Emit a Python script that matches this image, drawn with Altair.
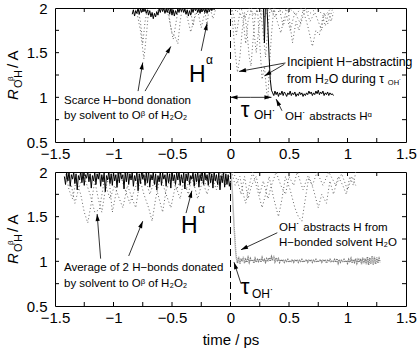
import math
import altair as alt
import pandas as pd

FONT = "Liberation Sans, DejaVu Sans"
X_DOMAIN = [-1.5, 1.5]
Y_DOMAIN = [0.5, 2.0]
X_LABELS = [-1.5, -1.0, -0.5, 0.0, 0.5, 1.0, 1.5]
Y_LABELS = [0.5, 1.0, 1.5, 2.0]
X_TICKS = [-1.25, -1.0, -0.75, -0.5, -0.25, 0.0, 0.25, 0.5, 0.75, 1.0, 1.25]
Y_TICKS = [0.75, 1.0, 1.25, 1.5, 1.75]
W, H = 351, 134
TICK = 4
GRAY = "#666666"

# ---------------- top panel data ----------------
TOP_HA_T0, TOP_HA_DT = -0.84, 0.01
TOP_HA_NOISE_1 = [1.93,1.98,1.91,1.97,1.94,2.00,1.93,1.99,1.95,2.01,1.96,1.99,1.94,1.98,1.92,1.97,1.90,1.95,1.88,1.94,
                  1.90,1.96,1.92,1.99,1.95,2.01,1.96,2.00,1.94,1.99,1.95,2.01,1.93,1.99,1.92,1.98,1.91,1.97,1.93,1.99,
                  1.95,2.01,1.96,2.00,1.95,1.99,1.93,1.98,1.91,1.97,1.92,1.99,1.95,2.01,1.97,2.00,1.95,1.99,1.94,2.01,
                  1.96,2.00,1.95,1.99,1.94,2.00,1.96,2.01,1.97,2.00,1.98,2.02,2.00,2.03,2.05,2.08,2.12]
TOP_HA_DROP_X = [0.25, 0.28, 0.29, 0.30, 0.31, 0.32, 0.33, 0.34, 0.35]
TOP_HA_DROP_Y = [2.20, 2.10, 1.61, 2.10, 2.05, 1.78, 1.45, 1.20, 1.08]
TOP_HA_T1, TOP_HA_DT1 = 0.36, 0.01
TOP_HA_NOISE_2 = [1.05,1.02,1.07,1.03,1.06,1.01,1.05,1.03,1.07,1.02,1.06,1.04,1.01,1.05,1.03,1.07,1.02,1.05,1.03,1.06,
                  1.01,1.04,1.02,1.06,1.03,1.05,1.01,1.04,1.02,1.05,1.03,1.07,1.04,1.06,1.02,1.05,1.03,1.07,1.04,1.08,
                  1.03,1.06,1.04,1.07,1.02,1.05,1.03,1.06,1.02,1.05,1.03,1.04,1.02]

TOP_D1_X = [-0.84,-0.80,-0.77,-0.74,-0.715,-0.70,-0.66,-0.62,-0.58,-0.53,-0.50,-0.475,-0.45,-0.43,-0.41,-0.37,-0.34,-0.31,-0.28,-0.25,-0.22,-0.18,-0.15,-0.12,-0.08]
TOP_D1_Y = [2.05,1.95,1.75,1.43,1.75,1.98,2.05,1.97,2.05,1.92,1.72,1.68,1.60,1.85,2.02,1.90,1.73,1.88,1.97,1.78,1.95,2.03,1.88,2.02,2.05]
TOP_D2_X = [-0.80,-0.77,-0.75,-0.73,-0.70,-0.54,-0.51,-0.49,-0.47,-0.44,-0.35,-0.32,-0.30,-0.22,-0.20,-0.18]
TOP_D2_Y = [2.05,1.85,1.60,1.85,2.05,2.05,1.78,1.65,1.80,2.05,2.05,1.80,1.95,1.98,1.80,2.05]
TOP_D3_X = [0.0,0.02,0.04,0.06,0.08,0.10,0.12,0.14,0.16,0.175,0.19,0.21,0.23,0.25,0.27,0.29,0.31,0.32,0.33,0.35,0.37,0.40,0.43,0.46,0.49,0.53,0.56,0.585,0.62,0.66,0.70,0.73,0.76,0.79,0.81,0.84,0.86,0.88]
TOP_D3_Y = [2.05,1.80,1.50,1.28,1.45,1.75,1.95,1.75,1.45,1.35,1.60,1.90,2.00,1.60,1.20,1.35,1.05,0.98,1.30,1.70,2.00,1.85,1.72,1.90,2.00,1.61,1.85,1.75,1.98,1.80,1.57,1.75,1.70,1.90,1.80,1.95,1.85,1.95]
TOP_D4_X = [0.0,0.03,0.05,0.08,0.11,0.13,0.15,0.18,0.20,0.22,0.24,0.26,0.28,0.30,0.32,0.34,0.38,0.42,0.45,0.48,0.51,0.55,0.60,0.64,0.68,0.72,0.75,0.78,0.80,0.83,0.85,0.87]
TOP_D4_Y = [2.05,1.90,1.70,1.95,1.85,1.60,1.85,2.00,1.75,1.50,1.75,1.95,1.70,1.45,1.80,2.00,1.90,1.98,1.80,1.92,1.75,1.95,1.82,2.00,1.85,1.95,1.85,1.75,1.95,1.82,1.90,1.98]
TOP_D5_X = [0.02,0.05,0.09,0.12,0.16,0.20,0.25,0.29,0.33,0.36,0.40,0.44,0.50,0.56,0.62,0.68,0.74,0.80,0.86]
TOP_D5_Y = [2.05,1.95,2.00,1.88,2.00,1.92,2.02,1.90,2.00,1.95,2.02,1.95,2.00,1.93,2.02,1.94,2.00,1.90,2.00]

# ---------------- bottom panel data ----------------
BOT_HA_T0, BOT_HA_DT = -1.42, 0.01
BOT_HA_NOISE = [1.95,1.86,1.99,1.90,2.01,1.84,1.97,1.92,2.00,1.87,
                1.98,1.80,1.96,1.91,2.01,1.88,1.99,1.85,1.97,1.93,
                2.01,1.89,1.98,1.82,1.96,1.90,2.00,1.86,1.98,1.92,
                2.01,1.84,1.97,1.89,1.99,1.78,1.96,1.91,2.01,1.87,
                1.98,1.85,2.00,1.90,1.97,1.83,1.99,1.88,2.01,1.92,
                1.97,1.81,1.99,1.89,2.01,1.86,1.98,1.91,2.00,1.84,
                1.96,1.90,2.01,1.79,1.98,1.87,2.00,1.92,1.97,1.85,
                1.99,1.88,2.01,1.83,1.97,1.91,2.00,1.86,1.98,1.80,
                1.96,1.89,2.01,1.85,1.99,1.92,1.97,1.84,2.00,1.88,
                1.98,1.82,2.01,1.90,1.97,1.86,1.99,1.91,2.01,1.85,
                1.97,1.88,2.00,1.81,1.98,1.90,2.01,1.86,1.96,1.92,
                2.00,1.84,1.98,1.89,2.01,1.83,1.97,1.90,1.99,1.86,
                2.01,1.91,1.97,1.85,2.00,1.88,1.98,1.82,2.01,1.90,
                1.97,1.86,1.99,1.80,1.96,1.88,2.00,1.83,1.98,1.86,
                1.97,1.84,1.90]
BOT_DROP_X = [0.0, 0.015, 0.03, 0.045]
BOT_DROP_Y = [2.05, 1.80, 1.40, 1.10]
BOT_BAND_T0, BOT_BAND_DT = 0.05, 0.01
BOT_BAND = [1.04,0.98,1.05,0.97,1.03,1.00,1.05,0.98,1.02,0.99,
            1.04,0.99,1.03,1.00,1.02,0.98,1.03,0.99,1.02,1.00,
            1.03,0.99,1.04,1.00,1.02,0.99,1.03,1.01,1.04,1.00,
            1.05,1.01,1.06,1.00,1.04,1.01,1.03,0.99,1.02,1.00,
            1.02,0.99,1.01,1.00,1.02,0.99,1.01,1.00,1.02,0.99,
            1.01,1.00,1.02,0.99,1.01,1.00,1.02,0.99,1.01,1.00,
            1.02,0.99,1.01,1.00,1.02,0.99,1.01,1.00,1.02,0.99,
            1.01,1.00,1.02,0.99,1.01,1.00,1.02,0.98,1.01,1.00,
            1.02,0.99,1.01,1.00,1.02,0.99,1.03,0.98,1.02,0.99,
            1.01,1.00,1.02,0.99,1.01,0.98,1.02,0.99,1.03,0.98,
            1.02,0.99,1.03,0.98,1.02,0.99,1.03,0.97,1.04,0.98,
            1.03,0.97,1.05,0.96,1.04,0.97,1.06,0.96,1.05,0.97,
            1.04,0.98,1.03,0.99]

BOT_D6_X = [-1.42,-1.38,-1.35,-1.32,-1.28,-1.25,-1.22,-1.19,-1.16,-1.13,-1.10,-1.07,-1.04,-1.01,-0.98,-0.95,-0.90,-0.86,-0.82,-0.78,-0.74,-0.70,-0.67,-0.64,-0.60,-0.55,-0.51,-0.47,-0.43,-0.40,-0.36,-0.33,-0.28,-0.24,-0.20,-0.16,-0.12,-0.08,-0.04,0.0]
BOT_D6_Y = [2.05,1.80,1.70,1.90,1.75,1.55,1.43,1.65,1.90,1.70,1.55,1.80,1.95,1.55,1.75,2.00,1.80,1.65,1.80,1.95,1.75,1.60,1.45,1.70,1.95,1.75,1.60,1.85,1.70,1.90,1.75,1.95,1.70,1.90,1.75,1.95,1.80,2.00,1.85,2.00]
BOT_D7_X = [-1.40,-1.36,-1.33,-1.30,-1.26,-1.20,-1.16,-1.12,-1.08,-1.03,-0.99,-0.95,-0.92,-0.88,-0.84,-0.81,-0.78,-0.73,-0.69,-0.65,-0.61,-0.58,-0.55,-0.50,-0.46,-0.42,-0.38,-0.34,-0.30,-0.26,-0.22,-0.18,-0.10,-0.05]
BOT_D7_Y = [1.95,1.85,1.65,1.80,1.98,1.75,1.55,1.58,1.90,1.70,1.85,1.70,1.60,1.85,1.70,1.60,1.85,1.95,1.75,1.90,1.70,1.55,1.80,1.95,1.80,1.95,1.80,1.95,1.85,1.98,1.85,2.00,1.85,2.00]
BOT_D8_X = [0.0,0.04,0.08,0.11,0.13,0.16,0.19,0.23,0.27,0.30,0.33,0.37,0.41,0.44,0.47,0.51,0.55,0.58,0.61,0.64,0.67,0.71,0.75,0.78,0.82,0.85,0.88,0.92,0.96,0.99,1.02,1.05,1.07]
BOT_D8_Y = [2.05,1.85,1.95,1.75,1.65,1.85,2.00,1.80,1.60,1.75,1.95,1.70,1.50,1.70,1.95,1.80,1.60,1.50,1.45,1.70,1.95,1.80,1.60,1.75,1.65,1.90,1.75,1.95,1.85,1.75,1.95,1.85,2.00]
BOT_D9_X = [0.02,0.06,0.09,0.12,0.15,0.18,0.22,0.25,0.28,0.32,0.35,0.39,0.43,0.47,0.50,0.54,0.57,0.62,0.66,0.70,0.74,0.79,0.84,0.90,0.95,1.00,1.04,1.07]
BOT_D9_Y = [2.00,1.90,1.75,1.95,1.70,1.85,1.95,1.75,1.90,1.70,1.85,2.00,1.85,1.75,1.95,1.85,2.00,1.80,1.95,1.85,2.00,1.85,2.00,1.85,1.98,1.80,1.95,1.85]

# ---------------- annotations ----------------
TOP_ARROWS = [(-0.79, 1.07, -0.75, 1.39), (-0.73, 1.07, -0.51, 1.57), (-0.25, 1.52, -0.20, 1.83),
              (0.47, 1.385, 0.073, 1.29), (0.46, 1.37, 0.29, 1.24), (0.44, 0.85, 0.39, 0.98),
              (0.17, 1.0, 0.0, 1.0), (0.17, 1.0, 0.35, 1.0)]
BOT_ARROWS = [(-1.11, 1.03, -1.14, 1.53), (-0.87, 1.06, -0.75, 1.45), (-0.38, 1.54, -0.33, 1.79),
              (0.40, 1.32, 0.09, 1.13), (0.09, 0.75, 0.03, 0.99)]
TOP_NOTES = [("Scarce H\u2212bond donation", -1.423, 0.955, 11.5),
             ("by solvent to O\u1d5d of H\u2082O\u2082", -1.423, 0.79, 11.5),
             ("Incipient H\u2212abstracting", 0.483, 1.40, 12.3),
             ("from H\u2082O during \u03c4", 0.483, 1.20, 12.3),
             ("OH\u02d9 abstracts H\u1d45", 0.466, 0.78, 11.5)]
TOP_SUBS = [("OH\u02d9", 1.345, 1.165, 7.5)]
TOP_BIG = [("H", -0.355, 1.167, 23), ("\u03b1", -0.21, 1.37, 12), ("\u03c4", 0.087, 0.78, 22), ("OH\u02d9", 0.20, 0.756, 12)]
BOT_NOTES = [("Average of 2 H\u2212bonds donated", -1.423, 0.925, 11.5),
             ("by solvent to O\u1d5d of H\u2082O\u2082", -1.423, 0.746, 11.5),
             ("OH\u02d9 abstracts H from", 0.415, 1.37, 11.5),
             ("H\u2212bonded solvent H\u2082O", 0.415, 1.20, 11.5)]
BOT_BIG = [("H", -0.423, 1.317, 23), ("\u03b1", -0.277, 1.54, 12), ("\u03c4", 0.087, 0.634, 22), ("OH\u02d9", 0.184, 0.59, 12)]

YTITLE = [("R", -37, 92, 15, "italic"), ("O", -33, 80, 11, "normal"), ("\u03b2", -42, 73, 8, "normal"),
          ("H", -33, 70, 11, "normal"), ("/ A", -37, 60, 15, "normal")]

ARROW_PATH = "M0,0L0.6,2L-0.6,2Z"


def grid(t0, dt, vals):
    return [round(t0 + i * dt, 4) for i in range(len(vals))]


def xenc(field, title=None):
    return alt.X(field, type="quantitative", scale=alt.Scale(domain=X_DOMAIN, nice=False, zero=False),
                 title=title,
                 axis=alt.Axis(values=X_LABELS, format="~g", ticks=False, domain=False, grid=False,
                               labelPadding=4, labelFontSize=15, labelFont=FONT, labelColor="black",
                               labelFlush=False, titleFontSize=15, titleFont=FONT, titleFontWeight="normal",
                               titleColor="black", titlePadding=7))


def yenc(field):
    return alt.Y(field, type="quantitative", scale=alt.Scale(domain=Y_DOMAIN, nice=False, zero=False),
                 title=None,
                 axis=alt.Axis(values=Y_LABELS, format="~g", ticks=False, domain=False, grid=False,
                               labelPadding=8, labelFontSize=15, labelFont=FONT, labelColor="black",
                               labelFlush=False))


def panel(solid_x, solid_y, dotted, band, arrows, notes, subs, big, xtitle):
    layers = []
    ppx = W / (X_DOMAIN[1] - X_DOMAIN[0])
    ppy = H / (Y_DOMAIN[1] - Y_DOMAIN[0])
    drows = []
    for name, (xs, ys) in dotted.items():
        drows += [{"x": a, "y": b, "s": name} for a, b in zip(xs, ys)]
    ddf = pd.DataFrame(drows)
    layers.append(alt.Chart(ddf).mark_line(clip=True, color=GRAY, strokeWidth=1, strokeDash=[1, 2.5]).encode(
        x=xenc("x", xtitle), y=yenc("y"), detail="s:N", order="x:Q"))
    if band is not None:
        bdf = pd.DataFrame({"x": band[0], "y": band[1]})
        layers.append(alt.Chart(bdf).mark_line(clip=True, color="#777777", strokeWidth=1.5, strokeDash=[1, 1]).encode(
            x=xenc("x", xtitle), y=yenc("y")))
    sdf = pd.DataFrame({"x": solid_x, "y": solid_y})
    layers.append(alt.Chart(sdf).mark_line(clip=True, color="black", strokeWidth=1).encode(
        x=xenc("x", xtitle), y=yenc("y")))
    # dashed zero line
    layers.append(alt.Chart(pd.DataFrame({"x": [0.0]})).mark_rule(color="black", strokeWidth=1, strokeDash=[7, 4]).encode(
        x=xenc("x", xtitle), y=alt.value(0), y2=alt.value(H)))
    # inward ticks
    xt = pd.DataFrame({"x": X_TICKS})
    for y0, y1 in [(H, H - TICK), (0, TICK)]:
        layers.append(alt.Chart(xt).mark_rule(color="black", strokeWidth=1).encode(
            x=xenc("x", xtitle), y=alt.value(y0), y2=alt.value(y1)))
    yt = pd.DataFrame({"y": Y_TICKS})
    for x0, x1 in [(0, TICK), (W, W - TICK)]:
        layers.append(alt.Chart(yt).mark_rule(color="black", strokeWidth=1).encode(
            y=yenc("y"), x=alt.value(x0), x2=alt.value(x1)))
    # arrows
    adf = pd.DataFrame([{"x": a, "y": b, "x2": c, "y2": d,
                         "ang": math.degrees(math.atan2((c - a) * ppx, (d - b) * ppy)) % 360}
                        for a, b, c, d in arrows])
    layers.append(alt.Chart(adf).mark_rule(color="black", strokeWidth=0.8).encode(
        x=xenc("x", xtitle), y=yenc("y"), x2="x2:Q", y2="y2:Q"))
    layers.append(alt.Chart(adf).mark_point(shape=ARROW_PATH, filled=True, color="black", size=49, opacity=1).encode(
        x=xenc("x2", xtitle), y=yenc("y2"), angle=alt.Angle("ang:Q", scale=None)))
    # notes
    ndf = pd.DataFrame([{"t": t, "x": x, "y": y, "fs": fs} for t, x, y, fs in notes + subs])
    layers.append(alt.Chart(ndf).mark_text(align="left", baseline="middle", font=FONT, color="black").encode(
        x=xenc("x", xtitle), y=yenc("y"), text="t:N", size=alt.Size("fs:Q", scale=None)))
    bdf2 = pd.DataFrame([{"t": t, "x": x, "y": y, "fs": fs} for t, x, y, fs in big])
    layers.append(alt.Chart(bdf2).mark_text(align="left", baseline="alphabetic", font=FONT, color="black").encode(
        x=xenc("x", xtitle), y=yenc("y"), text="t:N", size=alt.Size("fs:Q", scale=None)))
    # y title pieces
    for t, px, py, fs, st in YTITLE:
        layers.append(alt.Chart(pd.DataFrame({"t": [t]})).mark_text(
            align="left", baseline="alphabetic", angle=270, font=FONT, fontSize=fs, fontStyle=st,
            color="black").encode(x=alt.value(px), y=alt.value(py), text="t:N"))
    return alt.layer(*layers).properties(width=W, height=H)


top_solid_x = grid(TOP_HA_T0, TOP_HA_DT, TOP_HA_NOISE_1) + TOP_HA_DROP_X + grid(TOP_HA_T1, TOP_HA_DT1, TOP_HA_NOISE_2)
top_solid_y = TOP_HA_NOISE_1 + TOP_HA_DROP_Y + TOP_HA_NOISE_2
top = panel(top_solid_x, top_solid_y,
            {"d1": (TOP_D1_X, TOP_D1_Y), "d2": (TOP_D2_X, TOP_D2_Y), "d3": (TOP_D3_X, TOP_D3_Y),
             "d4": (TOP_D4_X, TOP_D4_Y), "d5": (TOP_D5_X, TOP_D5_Y)},
            None, TOP_ARROWS, TOP_NOTES, TOP_SUBS, TOP_BIG, None)

bot_solid_x = grid(BOT_HA_T0, BOT_HA_DT, BOT_HA_NOISE)
band_x = BOT_DROP_X + grid(BOT_BAND_T0, BOT_BAND_DT, BOT_BAND)
band_y = BOT_DROP_Y + BOT_BAND
bottom = panel(bot_solid_x, BOT_HA_NOISE,
               {"d6": (BOT_D6_X, BOT_D6_Y), "d7": (BOT_D7_X, BOT_D7_Y), "d8": (BOT_D8_X, BOT_D8_Y),
                "d9": (BOT_D9_X, BOT_D9_Y)},
               (band_x, band_y), BOT_ARROWS, BOT_NOTES, [], BOT_BIG, "time / ps")

chart = alt.vconcat(top, bottom, spacing=2).properties(
    padding={"left": 5, "top": 0, "right": 0, "bottom": 0}, background="white"
).configure_view(stroke="black", strokeWidth=1)

chart.save("out.html", embed_options={"renderer": "svg", "actions": False})
